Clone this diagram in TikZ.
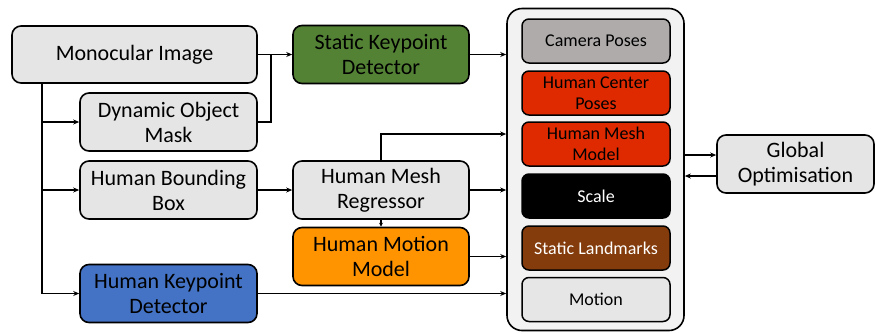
\documentclass[tikz,border=0pt]{standalone}
\usepackage{fontspec}
\setmainfont{Carlito}
\usetikzlibrary{arrows.meta}
\definecolor{boxgray}{HTML}{E5E5E5}
\definecolor{kpgreen}{HTML}{548235}
\definecolor{kpblue}{HTML}{4472C4}
\definecolor{motorange}{HTML}{FF9300}
\definecolor{humred}{HTML}{DF2A00}
\definecolor{camgray}{HTML}{AFABAB}
\definecolor{landbrown}{HTML}{843C0C}
\definecolor{motgray}{HTML}{E7E6E6}
\definecolor{contgray}{HTML}{F2F2F2}
\tikzset{
  mainbox/.style={draw=black, line width=1.6pt, rounded corners=9pt, fill=boxgray,
    minimum width=177pt, minimum height=58pt, align=center, inner sep=2pt,
    font=\fontsize{22}{25}\selectfont},
  innerbox/.style={draw=black, line width=1.5pt, rounded corners=7pt,
    minimum width=148pt, minimum height=44pt, align=center, inner sep=1pt,
    font=\fontsize{18}{21}\selectfont},
  arr/.style={line width=1.3pt, -{Stealth[length=6pt,width=5pt]}},
  ln/.style={line width=1.3pt},
}
\begin{document}
\begin{tikzpicture}[x=1pt,y=-1pt]
\useasboundingbox (0,0) rectangle (876,333);
% container
\node[draw=black, line width=1.6pt, rounded corners=15pt, fill=contgray,
  minimum width=177pt, minimum height=322pt, inner sep=0pt] (cont) at (595.5,169.5) {};
% left column
\node[mainbox, minimum width=245pt, minimum height=57pt] (mi) at (134.5,54.5) {Monocular Image};
\node[mainbox] (dom) at (168.5,122) {Dynamic Object\\Mask};
\node[mainbox] (hbb) at (168.5,190) {Human Bounding\\Box};
\node[mainbox, fill=kpblue] (hkd) at (168.5,293.5) {Human Keypoint\\Detector};
% middle column
\node[mainbox, minimum width=176pt, fill=kpgreen] (skd) at (381,54.5) {Static Keypoint\\Detector};
\node[mainbox, minimum width=176pt] (hmr) at (381,190) {Human Mesh\\Regressor};
\node[mainbox, minimum width=176pt, fill=motorange] (hmm) at (381,256.5) {Human Motion\\Model};
% inner boxes
\node[innerbox, fill=camgray] (cam) at (596,41) {Camera Poses};
\node[innerbox, fill=humred] (hcp) at (596,93) {Human Center\\Poses};
\node[innerbox, fill=humred] (hmesh) at (596,144) {Human Mesh\\Model};
\node[innerbox, fill=black, text=white] (scale) at (596,196) {Scale};
\node[innerbox, fill=landbrown, text=white] (land) at (596,248) {Static Landmarks};
\node[innerbox, fill=motgray] (mot) at (596,299.5) {Motion};
% global optimisation
\node[mainbox, minimum width=157pt, minimum height=58pt] (go) at (795.5,164) {Global\\Optimisation};
% helper coordinates
\coordinate (trunk) at (42,0);
\coordinate (junc) at (271,0);
\coordinate (hmrup) at (0,134);
% connectors
\draw[ln] (mi.south -| trunk) -- (hkd.west -| trunk);
\draw[arr] (trunk |- dom.west) -- (dom.west);
\draw[arr] (trunk |- hbb.west) -- (hbb.west);
\draw[arr] (trunk |- hkd.west) -- (hkd.west);
\draw[arr] (mi.east) -- (skd.west);
\draw[ln] (dom.east) -| (junc |- skd.west);
\draw[arr] (skd.east) -- (skd.east -| cont.west);
\draw[arr] (hbb.east) -- (hmr.west);
\draw[arr] (hmr.north) |- (cont.west |- hmrup);
\draw[arr] (hmr.east) -- (hmr.east -| cont.west);
\draw[arr, -{Stealth[length=4pt,width=4pt]}] (hmr.south) -- (hmm.north);
\draw[arr] (hmm.east) -- (hmm.east -| cont.west);
\draw[arr] (hkd.east) -- (hkd.east -| cont.west);
\draw[arr] ([yshift=9pt]go.west -| cont.east) -- ([yshift=9pt]go.west);
\draw[arr] ([yshift=-12pt]go.west) -- ([yshift=-12pt]go.west -| cont.east);
\end{tikzpicture}
\end{document}
